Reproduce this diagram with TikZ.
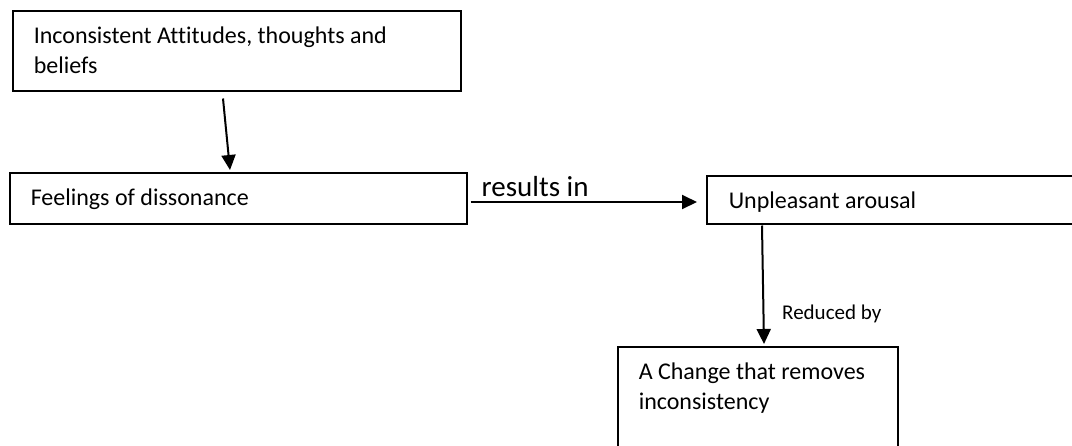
\documentclass[tikz,border=0pt]{standalone}
\usepackage{fontspec}
\setmainfont{Carlito}[RawFeature=-liga]
\usetikzlibrary{arrows.meta,calc}
\newcommand{\boxcontent}[4]{\parbox[t][#2][t]{#1}{\parindent=0pt\raggedright\leftskip=#3\fontsize{24pt}{29.5pt}\selectfont\rule{0pt}{33pt}#4}}
\tikzset{
  box/.style={draw, line width=1.5pt, inner sep=0pt, anchor=north west},
  conn/.style={line width=2pt, -{Triangle[length=15pt,width=14pt]}},
  lbl/.style={inner sep=0pt, anchor=base west}
}
\begin{document}
\begin{tikzpicture}[x=1pt,y=-1pt]
\path[use as bounding box, clip] (0,0) rectangle (1072,445);
\fill[white] (0,0) rectangle (1072,445);
\node[box] (b1) at (12,10) {\boxcontent{448pt}{80pt}{21pt}{Inconsistent Attitudes, thoughts and\\beliefs}};
\node[box] (b2) at (9,172) {\boxcontent{457pt}{51pt}{21pt}{Feelings of dissonance}};
\node[box] (b3) at (706,175) {\boxcontent{400pt}{48pt}{22pt}{Unpleasant arousal}};
\node[box] (b4) at (617,346) {\boxcontent{280pt}{140pt}{21pt}{A Change that removes\\inconsistency}};
\coordinate (a1s) at ($(b1.south west)+(211,7)$);
\coordinate (a1e) at ($(b2.north west)+(221,-2)$);
\draw[conn] (a1s) -- (a1e);
\coordinate (a2s) at ($(b2.north east)+(3,30)$);
\coordinate (a2e) at ($(b3.north west)+(-9,27)$);
\draw[conn] (a2s) -- (a2e);
\node[lbl, font=\fontsize{29pt}{33pt}\selectfont] (l1) at ($(a2s)+(11,-6)$) {results in};
\coordinate (a3s) at ($(b3.south west)+(56,1)$);
\coordinate (a3e) at ($(b4.north west)+(147,-2)$);
\draw[conn] (a3s) -- (a3e);
\node[lbl, font=\fontsize{21pt}{24pt}\selectfont] (l2) at (782,319) {Reduced by};
\end{tikzpicture}
\end{document}
